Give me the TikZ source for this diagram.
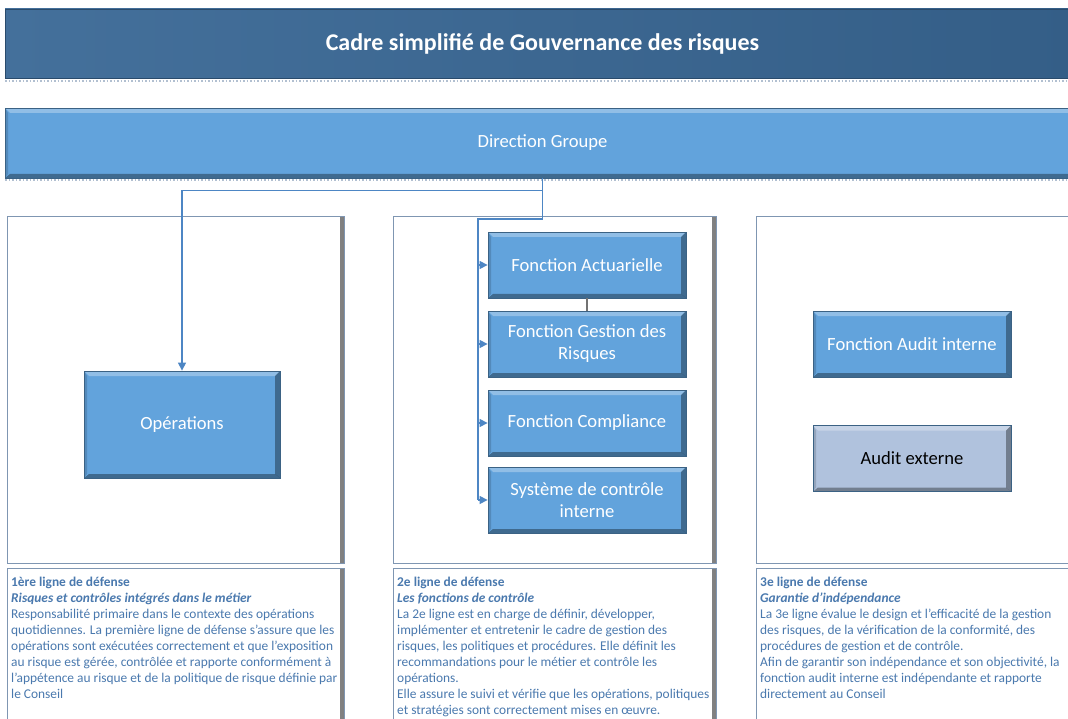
\documentclass[tikz,border=0pt]{standalone}
\usepackage{fontspec}
\setmainfont{Carlito}
\usetikzlibrary{arrows.meta}

\definecolor{bandtop}{HTML}{44709B}
\definecolor{bandbot}{HTML}{345E87}
\definecolor{boxblue}{HTML}{62A3DC}
\definecolor{boxgrey}{HTML}{B0C2DD}
\definecolor{linkblue}{HTML}{4D86C4}
\definecolor{noteblue}{HTML}{4A79AE}
\definecolor{frameblue}{HTML}{7F96B2}

\tikzset{
  bevel/.style={path picture={
    \fill[white,opacity=.30] (path picture bounding box.north west) -- (path picture bounding box.north east)
      -- ([shift={(-5pt,-5pt)}]path picture bounding box.north east) -- ([shift={(5pt,-5pt)}]path picture bounding box.north west) -- cycle;
    \fill[black,opacity=.35] (path picture bounding box.south west) -- (path picture bounding box.south east)
      -- ([shift={(-5pt,4pt)}]path picture bounding box.south east) -- ([shift={(5pt,4pt)}]path picture bounding box.south west) -- cycle;
    \fill[black,opacity=.35] (path picture bounding box.north east) -- (path picture bounding box.south east)
      -- ([shift={(-5pt,4pt)}]path picture bounding box.south east) -- ([shift={(-5pt,-5pt)}]path picture bounding box.north east) -- cycle;
    \fill[black,opacity=.15] (path picture bounding box.north west) -- (path picture bounding box.south west)
      -- ([shift={(3pt,4pt)}]path picture bounding box.south west) -- ([shift={(3pt,-5pt)}]path picture bounding box.north west) -- cycle;
  }},
  fbox/.style={bevel, fill=boxblue, draw=boxblue!60!black, line width=.8, inner sep=0,
    minimum width=198, minimum height=66, text=white, align=center,
    font=\fontsize{18.6}{22}\selectfont},
  colbox/.style={draw=frameblue, line width=1, fill=white, path picture={
    \shade[left color=white, right color=black!50] ([xshift=-4pt]path picture bounding box.north east)
      rectangle (path picture bounding box.south east);}},
  note/.style={anchor=north west, inner sep=0, align=left, text=noteblue,
    font=\fontsize{13.4}{16}\selectfont},
  link/.style={draw=linkblue, line width=1.2},
  tip/.style={link, -{Triangle[length=8pt,width=8pt]}, shorten >=0pt}
}

\begin{document}
\begin{tikzpicture}[x=1pt,y=-1pt]
\useasboundingbox (0,0) rectangle (1068,719);
\clip (0,0) rectangle (1068,719);

% title and top band
\node[left color=bandtop, right color=bandbot, draw=bandbot!80!black, line width=.8,
  minimum width=1075, minimum height=69, inner sep=0, text=white,
  font=\fontsize{24}{28}\bfseries] (title) at (542.5,43.5) {Cadre simplifié de Gouvernance des risques};
\draw[frameblue!60, dotted, line width=1.5] (5,81) -- (1068,81);
\node[fbox, minimum width=1075, minimum height=70] (dirgroupe) at (542.5,143) {Direction Groupe};
\draw[frameblue!60, dotted, line width=1.5] (5,180) -- (1068,180);

% three columns
\draw[colbox] (7,217) rectangle (344,563);
\draw[colbox] (393,217) rectangle (716,563);
\draw[colbox] (756,217) rectangle (1080,563);

% first line
\node[fbox, minimum width=196, minimum height=107] (ops) at (182,424.5) {Opérations};

% second line
\node[fbox] (actu) at (587,265) {Fonction Actuarielle};
\node[fbox] (risques) at (587,344) {Fonction Gestion des\\Risques};
\node[fbox] (compliance) at (587,423) {Fonction Compliance};
\node[fbox] (sci) at (587,500) {Système de contrôle\\interne};

% third line
\node[fbox] (audint) at (912,344) {Fonction Audit interne};
\node[fbox, fill=boxgrey, text=black] (audext) at (912,458.5) {Audit externe};

% connectors
\draw[link] (dirgroupe.south) -- ++(0,12) coordinate (split);
\draw[tip] (split) -| (ops.north);
\coordinate (bus) at (478,219);
\draw[link] (split) |- (bus) -- (bus |- sci.west);
\foreach \b in {actu,risques,compliance,sci}
  \draw[tip] (bus |- \b.west) -- (\b.west);
\draw[black!55, line width=1.5] (actu.south) -- (risques.north);

% notes
\draw[colbox] (7,568) rectangle (344,730);
\draw[colbox] (393,568) rectangle (716,730);
\draw[colbox] (756,568) rectangle (1080,730);

\node[note] (note1) at (11,577) {\textbf{1ère ligne de défense}\\
\textbf{\textit{Risques et contrôles intégrés dans le métier}}\\
Responsabilité primaire dans le contexte des opérations\\
quotidiennes. La première ligne de défense s’assure que les\\
opérations sont exécutées correctement et que l’exposition\\
au risque est gérée, contrôlée et rapporte conformément à\\
l’appétence au risque et de la politique de risque définie par\\
le Conseil};

\node[note] (note2) at (397,577) {\textbf{2e ligne de défense}\\
\textbf{\textit{Les fonctions de contrôle}}\\
La 2e ligne est en charge de définir, développer,\\
implémenter et entretenir le cadre de gestion des\\
risques, les politiques et procédures. Elle définit les\\
recommandations pour le métier et contrôle les\\
opérations.\\
Elle assure le suivi et vérifie que les opérations, politiques\\
et stratégies sont correctement mises en œuvre.};

\node[note] (note3) at (760,577) {\textbf{3e ligne de défense}\\
\textbf{\textit{Garantie d’indépendance}}\\
La 3e ligne évalue le design et l’efficacité de la gestion\\
des risques, de la vérification de la conformité, des\\
procédures de gestion et de contrôle.\\
Afin de garantir son indépendance et son objectivité, la\\
fonction audit interne est indépendante et rapporte\\
directement au Conseil};
\end{tikzpicture}
\end{document}
